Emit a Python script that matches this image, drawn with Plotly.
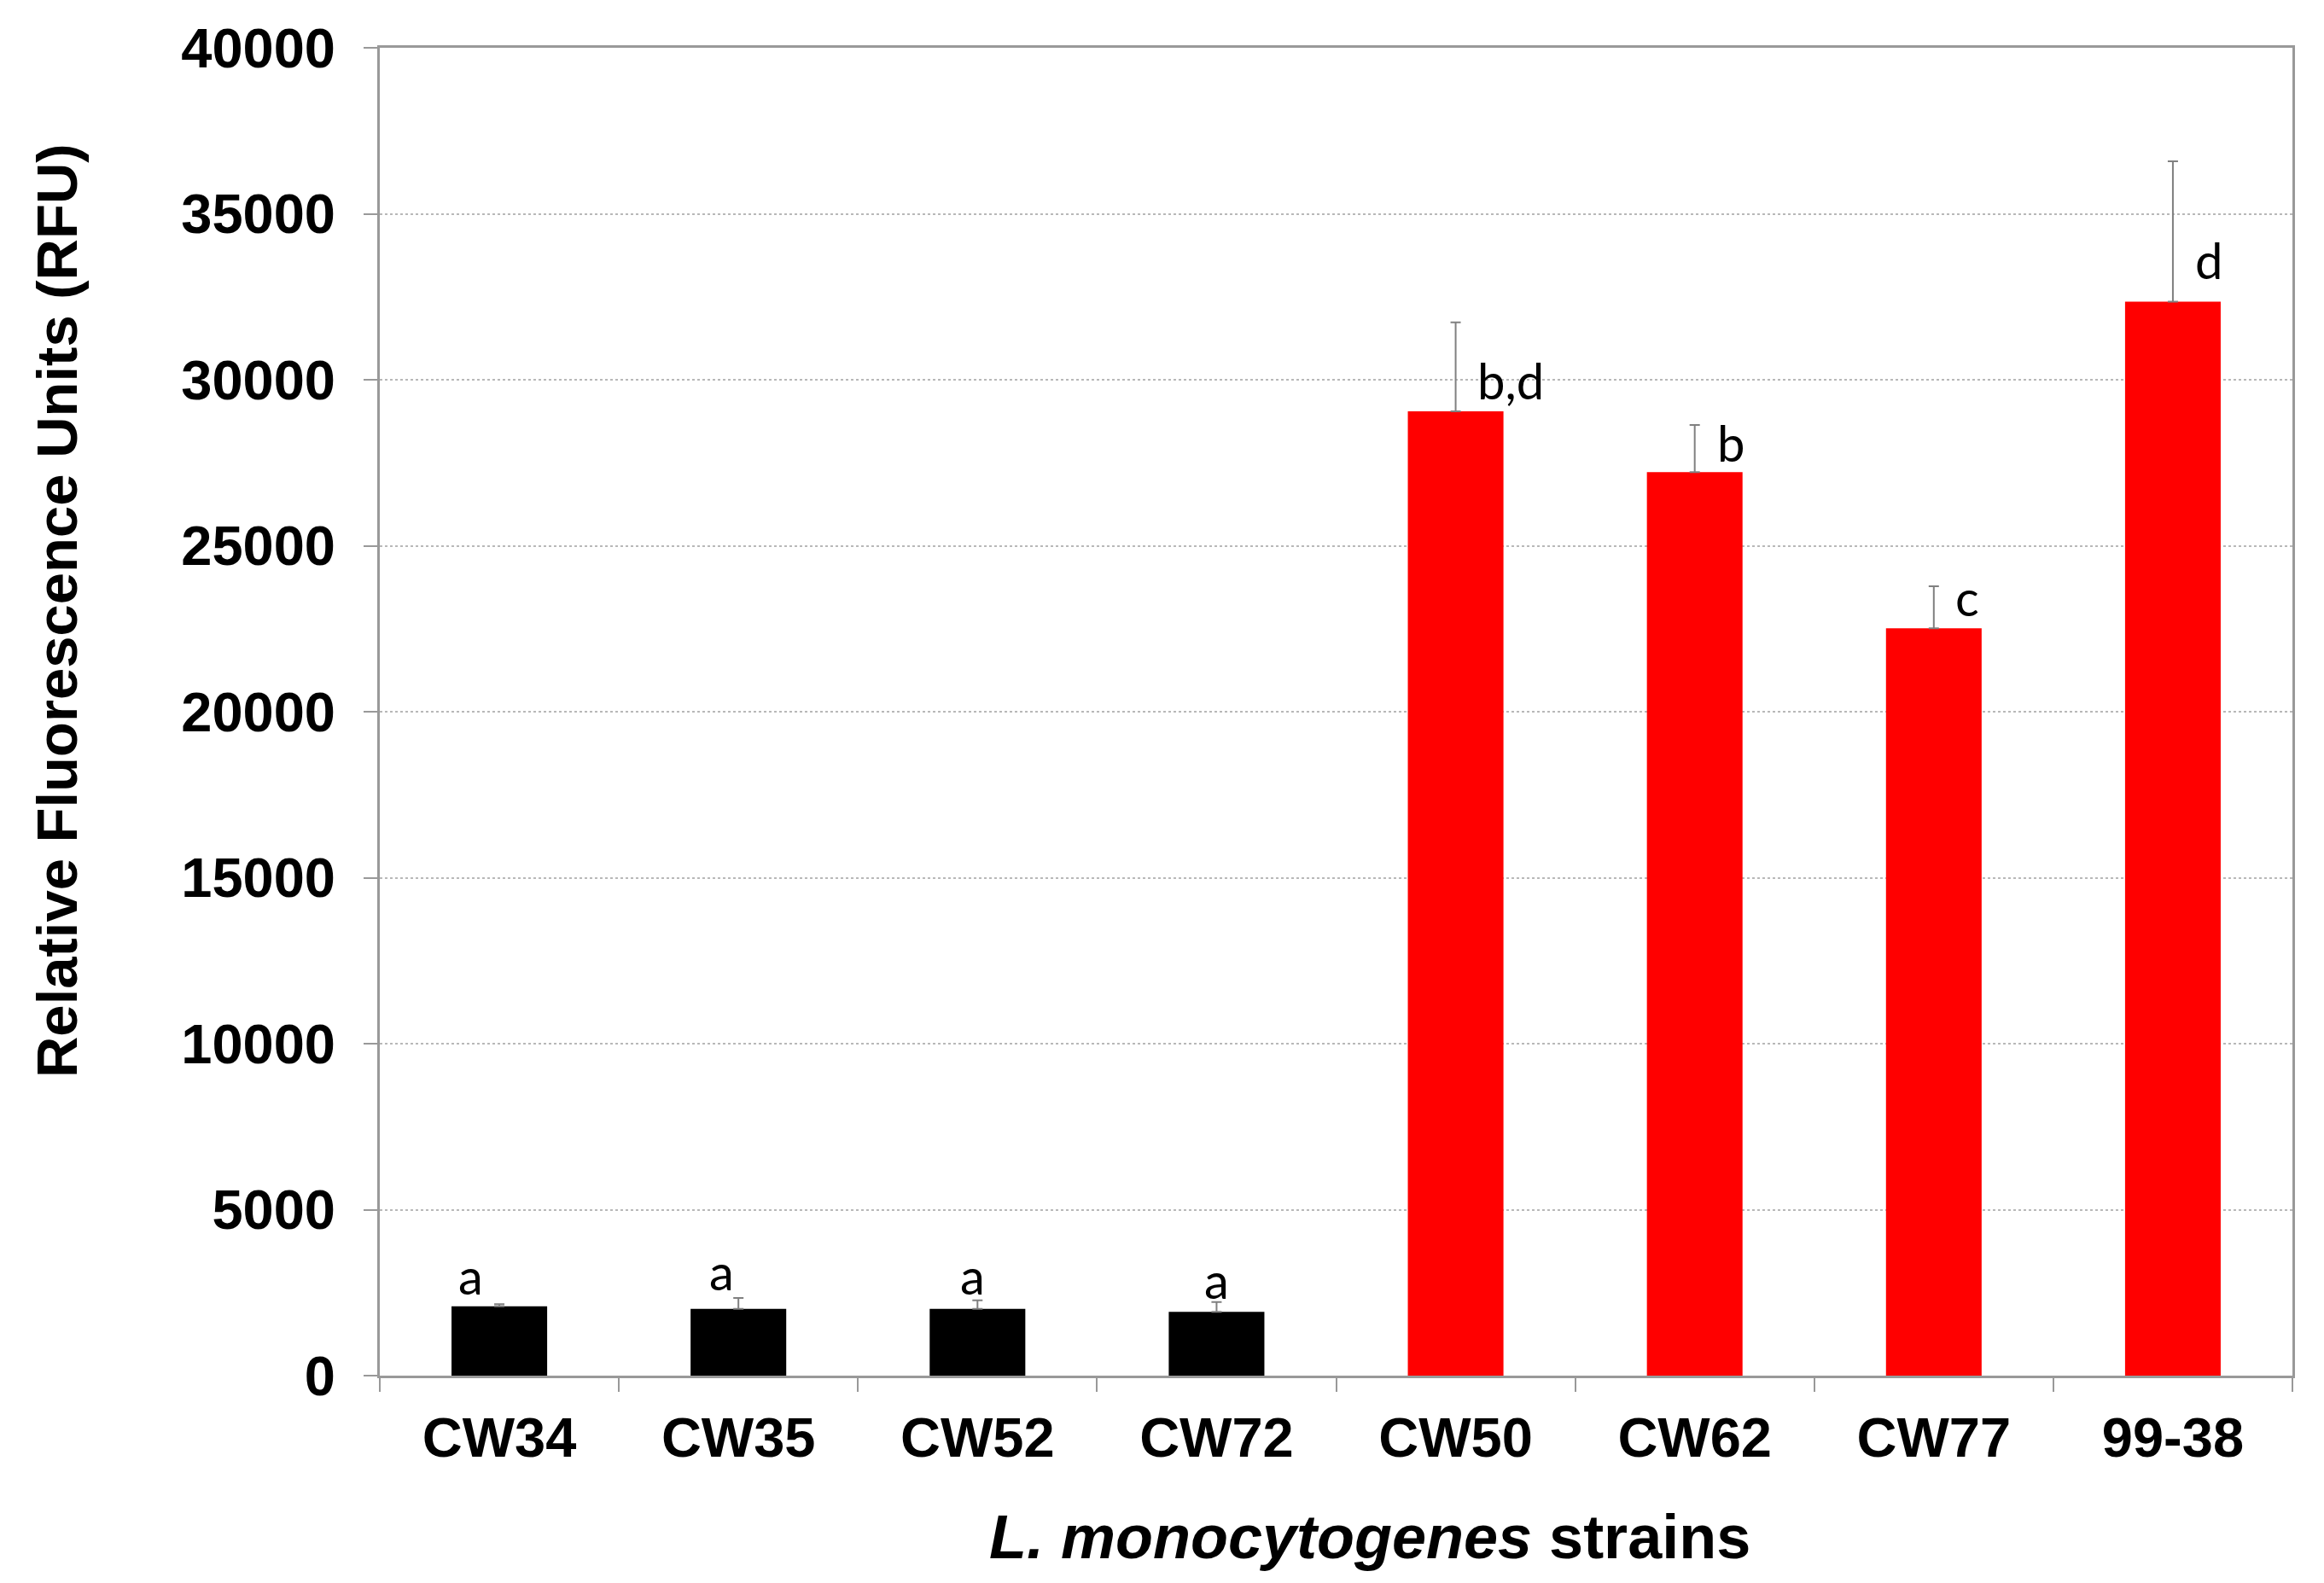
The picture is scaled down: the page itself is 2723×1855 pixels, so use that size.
import plotly.graph_objects as go

strains = ["CW34", "CW35", "CW52", "CW72", "CW50", "CW62", "CW77", "99-38"]
rfu_mean = [2090, 2010, 2010, 1920, 29050, 27220, 22510, 32350]
rfu_err = [60, 330, 260, 300, 2680, 1420, 1270, 4230]
bar_colors = ["#000000"] * 4 + ["#ff0000"] * 4
sig_letters = ["a", "a", "a", "a", "b,d", "b", "c", "d"]

# annotation placement (x offset from bar centre in category units, y in data units)
label_dx = [-0.12, -0.07, -0.02, 0.0, 0.23, 0.15, 0.14, 0.15]
label_y = [3020, 3150, 3020, 2890, 30000, 28100, 23470, 33600]

fig = go.Figure()
fig.add_trace(go.Bar(
    x=strains,
    y=rfu_mean,
    marker=dict(color=bar_colors, line=dict(width=0)),
    error_y=dict(type="data", array=rfu_err, arrayminus=[0] * len(rfu_err),
                 symmetric=False, color="#808080", thickness=2, width=6),
    showlegend=False,
))

for i, (t, dx, yy) in enumerate(zip(sig_letters, label_dx, label_y)):
    fig.add_annotation(x=i + dx, y=yy, xref="x", yref="y", text=t, showarrow=False,
                       font=dict(family="Lato, Open Sans, sans-serif", size=58, color="#000000"))

# axis titles as annotations (positioned off-centre like the original)
fig.add_annotation(xref="paper", yref="paper", x=-0.169, y=0.576,
                   xanchor="center", yanchor="middle", textangle=-90, showarrow=False,
                   text="<b>Relative Fluorescence Units (RFU)</b>",
                   font=dict(size=67, family="Liberation Sans, Arial, sans-serif", color="#000000"))
fig.add_annotation(xref="paper", yref="paper", x=0.5176, y=-0.1215,
                   xanchor="center", yanchor="middle", showarrow=False,
                   text="<b><i>L. monocytogenes</i> strains</b>",
                   font=dict(size=72, family="Liberation Sans, Arial, sans-serif", color="#000000"))

fig.update_layout(
    width=2723, height=1855,
    margin=dict(l=437, r=45, t=41, b=251),
    paper_bgcolor="#ffffff", plot_bgcolor="#ffffff",
    bargap=0.6,
    font=dict(family="Liberation Sans, Arial, sans-serif", color="#000000"),
)

fig.update_xaxes(
    type="category",
    range=[-0.5, 7.5],
    showline=True, linecolor="#999999", linewidth=3, mirror=True,
    ticks="outside", ticklen=16, tickcolor="#999999", tickwidth=2,
    tickson="boundaries",
    tickfont=dict(size=65, family="Liberation Sans, Arial, sans-serif", color="#000000", weight="bold"),
    ticklabelstandoff=14,
    showgrid=False,
)

fig.update_yaxes(
    range=[0, 40000], dtick=5000, tickformat="d",
    showline=True, linecolor="#999999", linewidth=3, mirror=True,
    ticks="outside", ticklen=16, tickcolor="#999999", tickwidth=2,
    tickfont=dict(size=65, family="Liberation Sans, Arial, sans-serif", color="#000000", weight="bold"),
    ticklabelstandoff=20,
    showgrid=True, gridcolor="#b8b8b8", gridwidth=1.5, griddash="dot",
    zeroline=False,
)

fig.write_html("out.html")
